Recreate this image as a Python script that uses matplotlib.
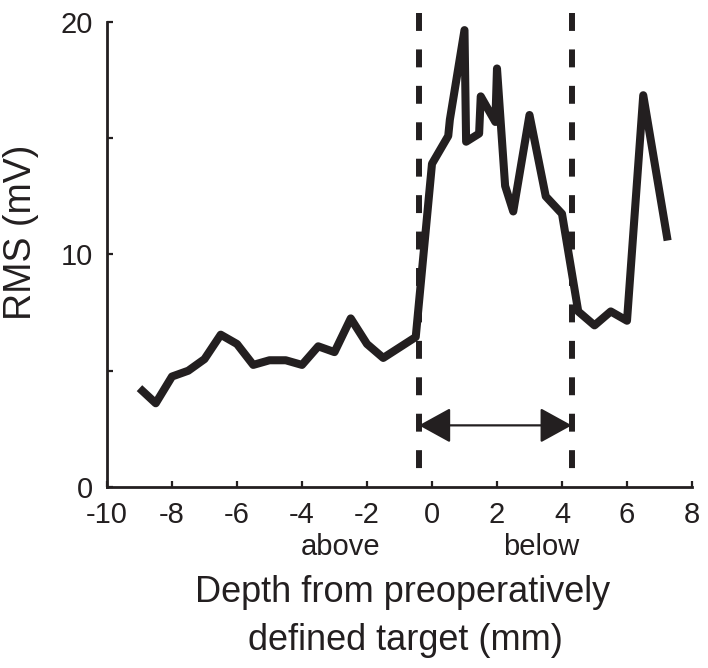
import matplotlib
matplotlib.use("Agg")
import matplotlib.pyplot as plt
from matplotlib.patches import FancyArrowPatch

plt.rcParams['font.family'] = ['Liberation Sans', 'DejaVu Sans']

# Data: depth (mm) vs RMS (mV)
depth = [-9.0, -8.5, -8.0, -7.5, -7.0, -6.5, -6.0, -5.5, -5.0, -4.5, -4.0, -3.5,
         -3.0, -2.5, -2.0, -1.5, -1.0, -0.5,
         0.0, 0.5, 0.55, 1.0, 1.05, 1.45, 1.5, 1.95, 2.0, 2.25, 2.5, 3.0, 3.5,
         4.0, 4.5, 5.0, 5.5, 6.0, 6.5, 7.25]
rms = [4.25, 3.6, 4.75, 5.0, 5.5, 6.55, 6.15, 5.25, 5.45, 5.45, 5.25, 6.05,
       5.8, 7.25, 6.15, 5.55, 6.0, 6.45,
       13.9, 15.1, 15.8, 19.65, 14.85, 15.2, 16.8, 15.7, 18.0, 12.95, 11.85, 16.0, 12.5,
       11.75, 7.55, 6.95, 7.55, 7.15, 16.85, 10.6]

# Boundaries of the region (dashed lines) and arrow level
boundaries = [-0.4, 4.3]
dash_range = [20.4, 0.7]
arrow_y = 2.65

x_ticks = [-10, -8, -6, -4, -2, 0, 2, 4, 6, 8]
y_ticks = [0, 10, 20]
y_minor = [5, 15]

ink = '#231f20'

fig = plt.figure(figsize=(7.08, 6.68), dpi=100)
ax = fig.add_axes([0.1511, 0.2710, 0.8263, 0.6961])

ax.plot(depth, rms, color=ink, lw=5.8, solid_joinstyle='round', solid_capstyle='butt', zorder=3)

for b in boundaries:
    ax.plot([b, b], dash_range, color=ink, lw=4.3, dashes=(3.0, 3.1),
            dash_capstyle='butt', zorder=2, clip_on=False)

arr = FancyArrowPatch((boundaries[0], arrow_y), (boundaries[1], arrow_y),
                      arrowstyle='<|-|>,head_length=2.0,head_width=1.1',
                      mutation_scale=10, color=ink, lw=1.6,
                      shrinkA=0, shrinkB=0, zorder=4)
ax.add_patch(arr)

ax.set_xlim(-10, 8)
ax.set_ylim(0, 20)
ax.set_xticks(x_ticks)
ax.set_xticklabels([str(t) for t in x_ticks])
ax.set_yticks(y_ticks)
ax.set_yticklabels([str(t) for t in y_ticks])
ax.set_yticks(y_minor, minor=True)

for s in ['top', 'right']:
    ax.spines[s].set_visible(False)
for s in ['left', 'bottom']:
    ax.spines[s].set_linewidth(2.0)
    ax.spines[s].set_color(ink)

ax.tick_params(which='both', direction='in', length=4.5, width=1.6, color=ink,
               labelsize=21, labelcolor=ink)
ax.tick_params(axis='x', pad=10)
ax.tick_params(axis='y', pad=10)

label_y = (487 - 555) / 23.25
ax.text(-2.8, label_y, 'above', fontsize=21, color=ink, ha='center', va='baseline')
ax.text(3.35, label_y, 'below', fontsize=21, color=ink, ha='center', va='baseline')

fig.text(21.5 / 708, 1 - 232 / 668, 'RMS (mV)', rotation=90, fontsize=27,
         color=ink, ha='center', va='center')
fig.text(403 / 708, 1 - 602 / 668, 'Depth from preoperatively', fontsize=26,
         color=ink, ha='center', va='baseline')
fig.text(405 / 708, 1 - 650 / 668, 'defined target (mm)', fontsize=26,
         color=ink, ha='center', va='baseline')

fig.savefig('out.png', dpi=100)
